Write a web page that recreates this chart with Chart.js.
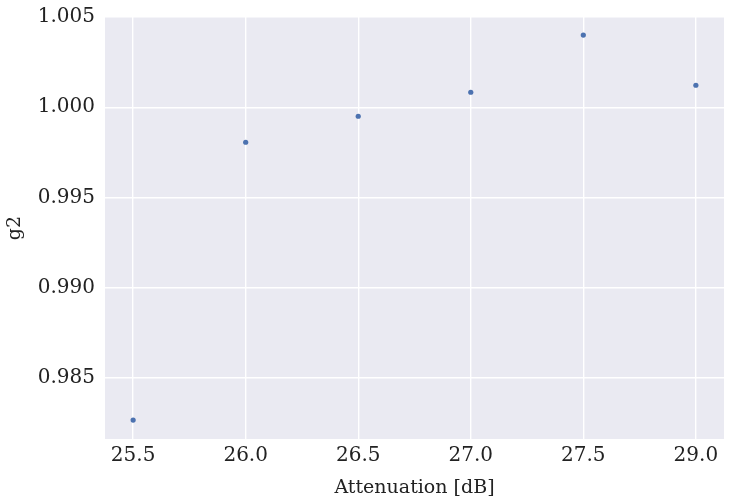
<!DOCTYPE html>
<html>
<head>
<meta charset="utf-8">
<script src="https://cdn.jsdelivr.net/npm/chart.js@4/dist/chart.umd.min.js"></script>
<style>
  html, body { margin: 0; padding: 0; background: #fff; }
  #wrap { width: 734px; height: 503px; }
</style>
</head>
<body>
<div id="wrap"><canvas id="c"></canvas></div>
<script>
// tick labels as shown on the x axis (evenly spaced)
const xLabels = ['25.5', '26.0', '26.5', '27.0', '27.5', '29.0'];
const g2Values = [0.98267, 0.99806, 0.9995, 1.00083, 1.00400, 1.00122];
const yTicks = [0.985, 0.990, 0.995, 1.000, 1.005];

const points = g2Values.map((v, i) => ({ x: i, y: v }));

// seaborn-style background
const bgPlugin = {
    id: 'bg',
    beforeDraw(chart) {
        const a = chart.chartArea;
        const ctx = chart.ctx;
        ctx.save();
        ctx.fillStyle = '#EAEAF2';
        ctx.fillRect(a.left, a.top, a.right - a.left, a.bottom - a.top);
        ctx.restore();
    }
};

Chart.defaults.font.family = '"DejaVu Serif", serif';
Chart.defaults.color = '#222';

new Chart(document.getElementById('c'), {
    type: 'scatter',
    data: {
        datasets: [{
            data: points,
            backgroundColor: '#4C72B0',
            borderColor: '#4C72B0',
            pointRadius: 2.6,
            borderWidth: 0
        }]
    },
    options: {
        responsive: true,
        maintainAspectRatio: false,
        animation: false,
        layout: { padding: { top: 17, right: 10, left: 0, bottom: 0 } },
        plugins: { legend: { display: false }, tooltip: { enabled: false } },
        scales: {
            x: {
                type: 'linear',
                min: -0.25,
                max: 5.25,
                afterBuildTicks(axis) {
                    axis.ticks = xLabels.map((_, i) => ({ value: i }));
                },
                afterFit(axis) { axis.height = 64; },
                ticks: {
                    callback: (v) => xLabels[v],
                    font: { size: 20 },
                    padding: 5,
                    maxRotation: 0
                },
                grid: { color: '#fff', lineWidth: 1.4, drawTicks: false },
                border: { display: false },
                title: { display: true, text: 'Attenuation [dB]', font: { size: 19 }, padding: { top: 0 } }
            },
            y: {
                min: 0.98162,
                max: 1.005,
                afterBuildTicks(axis) {
                    axis.ticks = yTicks.map(v => ({ value: v }));
                },
                afterFit(axis) { axis.width = 105; axis.paddingTop = 0; axis.paddingBottom = 0; },
                ticks: {
                    callback: (v) => v.toFixed(3),
                    font: { size: 20 },
                    padding: 10
                },
                grid: { color: '#fff', lineWidth: 1.4, drawTicks: false },
                border: { display: false },
                title: { display: true, text: 'g2', font: { size: 19 }, padding: { bottom: 0 } }
            }
        }
    },
    plugins: [bgPlugin]
});
</script>
</body>
</html>
